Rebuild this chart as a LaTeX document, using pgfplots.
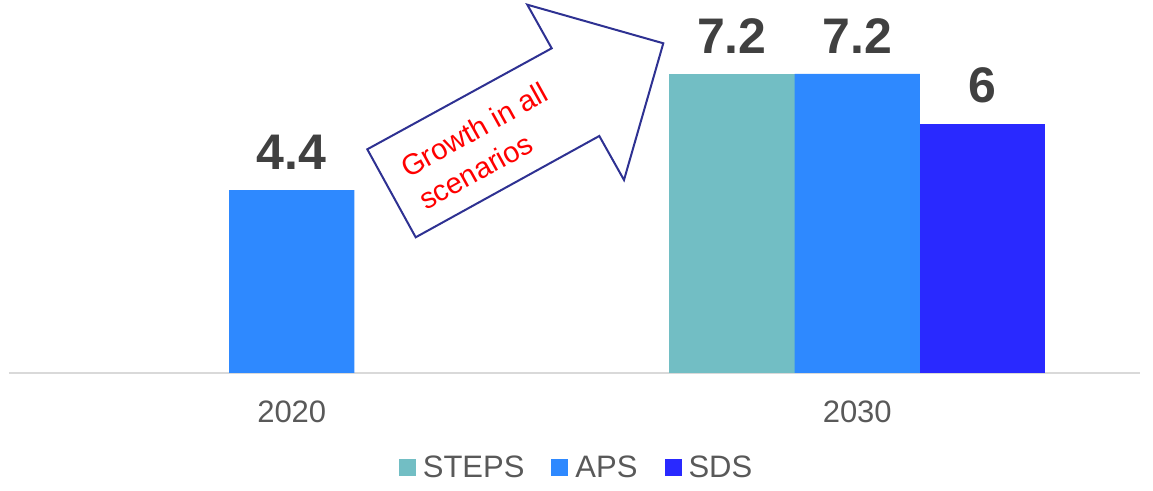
\documentclass[border=0pt]{standalone}
\usepackage{fontspec}
\setmainfont{Liberation Sans}
\usepackage{pgfplots}
\pgfplotsset{compat=1.18}
\definecolor{steps}{RGB}{114,190,196}
\definecolor{aps}{RGB}{46,137,255}
\definecolor{sds}{RGB}{41,41,255}
\definecolor{lab}{RGB}{64,64,64}
\definecolor{tickc}{RGB}{89,89,89}
\definecolor{navy}{RGB}{46,49,146}
\pgfplotsset{sqlegend/.style={legend image code/.code={\fill[##1] (0pt,-4.25pt) rectangle (8.5pt,4.25pt);}}}
\begin{document}
\begin{tikzpicture}
\begin{axis}[
  scale only axis, width=565.5pt, height=186.5pt,
  xmin=-0.5, xmax=1.5, ymin=0, ymax=8.98,
  xtick={0,1}, xticklabels={2020,2030},
  axis y line=none, axis x line*=bottom,
  x axis line style={draw=black!15, line width=1pt},
  major tick length=0pt,
  /pgf/number format/assume math mode=true,
  xticklabel style={font=\fontsize{15.5}{18}\selectfont, text=tickc, anchor=base, yshift=-24.7pt},
  ybar, bar width=0.2219,
  nodes near coords,
  every node near coord/.append style={font=\fontsize{25}{30}\selectfont\bfseries, text=lab, anchor=south, inner sep=0pt, yshift=10pt},
  legend columns=3,
  legend style={at={(0.5027,-0.2547)}, anchor=center, draw=none, fill=none,
    font=\fontsize{15.5}{18}\selectfont, text=tickc,
    /tikz/every odd column/.append style={column sep=1.5pt},
    /tikz/every even column/.append style={column sep=11.5pt}},
  clip=false,
]
\addplot[fill=steps, draw=none, bar shift=-0.2219, sqlegend] coordinates {(1,7.2)};
\addplot[fill=aps, draw=none, bar shift=0, sqlegend] coordinates {(0,4.4) (1,7.2)};
\addplot[fill=sds, draw=none, bar shift=0.2219, sqlegend] coordinates {(1,6)};
\legend{STEPS, APS, SDS}
\end{axis}
\draw[navy, line width=1pt, fill=white, line join=miter]
  (203.35pt,67.85pt) -- (179.15pt,111.85pt) -- (271.35pt,162.35pt) -- (259.15pt,184.15pt)
  -- (327.15pt,164.85pt) -- (307.5pt,96.5pt) -- (295.15pt,118.5pt) -- cycle;
\node[rotate=29, align=left, text=red, font=\fontsize{14.6}{18.5}\selectfont, inner sep=0pt]
  at (237pt,113.5pt) {Growth in all\\scenarios};
\pgfresetboundingbox
\path (-4.5pt,-59pt) rectangle (572pt,186.5pt);
\end{tikzpicture}
\end{document}
